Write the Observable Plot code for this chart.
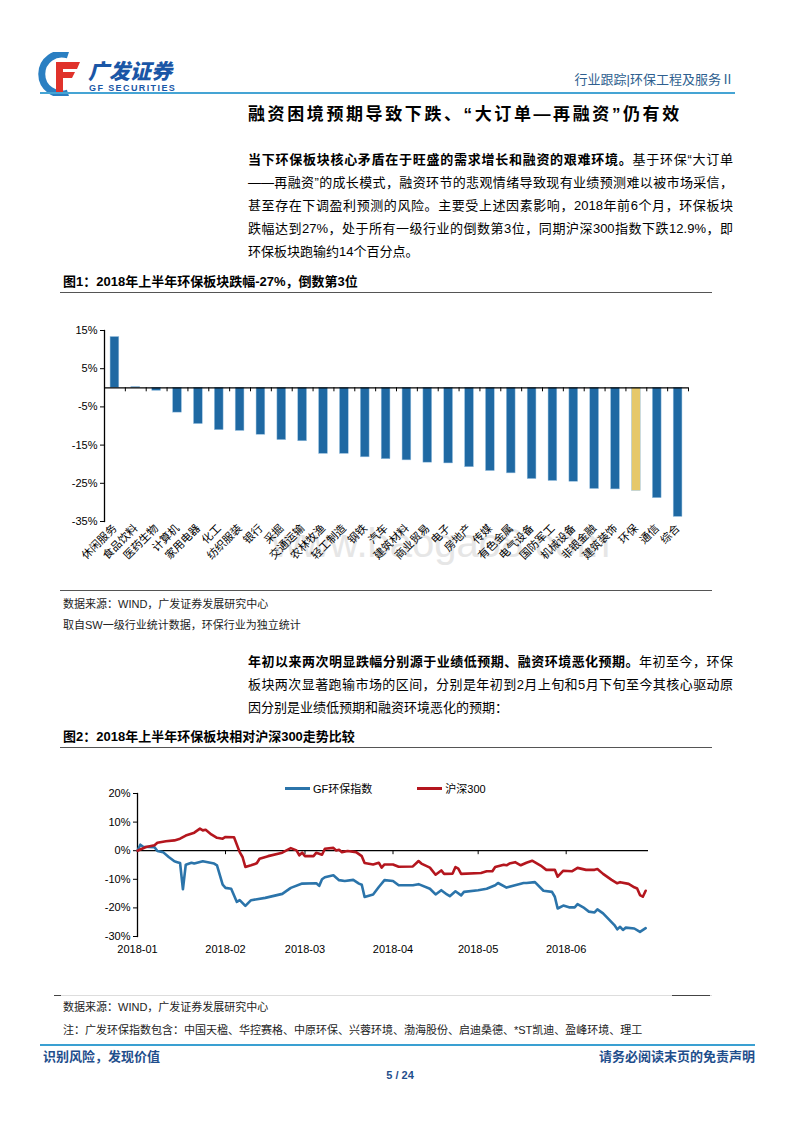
<!DOCTYPE html>
<html lang="zh-CN"><head><meta charset="utf-8">
<script src="https://cdn.jsdelivr.net/npm/d3@7"></script>
<script src="https://cdn.jsdelivr.net/npm/@observablehq/plot@0.6"></script>
<style>
body{margin:0;background:#fff;}
#page{position:relative;width:800px;height:1132px;overflow:hidden;font-family:"Liberation Sans","Noto Sans CJK SC",sans-serif;color:#000;}
.abs{position:absolute;white-space:nowrap;}
.ln{position:absolute;left:248px;width:485px;font-size:13px;line-height:16px;height:16px;white-space:nowrap;text-align:justify;text-align-last:justify;}
.ln.last{text-align-last:left;}
.figt{position:absolute;left:63px;font-size:13px;font-weight:700;line-height:16px;}
.rule{position:absolute;height:0;}
.src{position:absolute;left:63px;font-size:11px;line-height:14px;color:#222;}
.blue{color:#1f4e8c;}
</style></head>
<body><div id="page">
<!-- logo -->
<svg class="abs" style="left:38px;top:52px" width="50" height="44" viewBox="0 0 50 44">
  <path d="M30 3 A20 20 0 1 0 30 41" fill="none" stroke="#2a7fc2" stroke-width="7"/>
  <path d="M18 10 H42 L39 17 H25 V20 H37 L34 26 H25 V40 H18 Z" fill="#e0322b"/>
</svg>
<div class="abs" style="left:88px;top:59px;font-size:21px;font-weight:900;color:#1a56a6;font-style:italic;line-height:25px;">广发证券</div>
<div class="abs" style="left:89px;top:83px;font-size:9px;font-weight:700;color:#1a56a6;line-height:10px;letter-spacing:1.4px;">GF SECURITIES</div>
<div class="abs" style="right:66px;top:72px;font-size:13px;color:#2f5f8f;line-height:16px;">行业跟踪|环保工程及服务Ⅱ</div>
<div class="rule" style="left:40px;width:695px;top:92px;border-top:2px solid #45a4d4;"></div>

<div class="abs" style="left:248px;top:105px;font-size:17px;font-weight:700;line-height:20px;letter-spacing:2.6px;">融资困境预期导致下跌、“大订单—再融资”仍有效</div>

<div class="ln" style="top:152px;"><b>当下环保板块核心矛盾在于旺盛的需求增长和融资的艰难环境。</b>基于环保“大订单</div>
<div class="ln" style="top:175px;">——再融资”的成长模式，融资环节的悲观情绪导致现有业绩预测难以被市场采信，</div>
<div class="ln" style="top:198px;">甚至存在下调盈利预测的风险。主要受上述因素影响，2018年前6个月，环保板块</div>
<div class="ln" style="top:221px;">跌幅达到27%，处于所有一级行业的倒数第3位，同期沪深300指数下跌12.9%，即</div>
<div class="ln last" style="top:244px;">环保板块跑输约14个百分点。</div>

<div class="figt" style="top:274px;">图1：2018年上半年环保板块跌幅-27%，倒数第3位</div>
<div class="rule" style="left:60px;width:652px;top:292px;border-top:1.5px solid #555;"></div>

<div class="abs" style="left:272px;top:520px;font-size:40px;color:#e6e6e6;line-height:46px;">www.baogao8.com</div>
<div id="chart1" class="abs" style="left:40px;top:300px;"></div>

<div class="rule" style="left:60px;width:652px;top:590px;border-top:1px solid #555;"></div>
<div class="src" style="top:597px;">数据来源：WIND，广发证券发展研究中心</div>
<div class="src" style="top:618px;">取自SW一级行业统计数据，环保行业为独立统计</div>

<div class="ln" style="top:654px;"><b>年初以来两次明显跌幅分别源于业绩低预期、融资环境恶化预期。</b>年初至今，环保</div>
<div class="ln" style="top:677px;">板块两次显著跑输市场的区间，分别是年初到2月上旬和5月下旬至今其核心驱动原</div>
<div class="ln last" style="top:700px;">因分别是业绩低预期和融资环境恶化的预期：</div>

<div class="figt" style="top:729px;">图2：2018年上半年环保板块相对沪深300走势比较</div>
<div class="rule" style="left:60px;width:652px;top:747px;border-top:1.5px solid #555;"></div>

<div id="legend2" class="abs" style="left:285px;top:779px;font-size:11px;line-height:14px;"></div>
<div id="chart2" class="abs" style="left:40px;top:770px;"></div>

<div class="rule" style="left:55px;width:657px;top:995px;border-top:1px solid #ddd;"></div>
<div class="rule" style="left:672px;width:38px;top:995px;border-top:1px solid #444;"></div>
<div class="rule" style="left:54px;width:7px;top:995px;border-top:1px solid #444;"></div>
<div class="src" style="top:1000px;">数据来源：WIND，广发证券发展研究中心</div>
<div class="src" style="top:1023px;">注：广发环保指数包含：中国天楹、华控赛格、中原环保、兴蓉环境、渤海股份、启迪桑德、*ST凯迪、盈峰环境、理工</div>

<div class="rule" style="left:40px;width:715px;top:1044px;border-top:2px solid #3aa0d2;"></div>
<div class="abs blue" style="left:43px;top:1049px;font-size:13px;font-weight:700;line-height:16px;">识别风险，发现价值</div>
<div class="abs blue" style="right:45px;top:1049px;font-size:13px;font-weight:700;line-height:16px;">请务必阅读末页的免责声明</div>
<div class="abs blue" style="left:0;width:800px;text-align:center;top:1068px;font-size:11px;font-weight:700;line-height:14px;">5 / 24</div>
</div>
<script>
// ---------- Chart 1 data ----------
const industries = ["休闲服务","食品饮料","医药生物","计算机","家用电器","化工","纺织服装","银行","采掘","交通运输","农林牧渔","轻工制造","钢铁","汽车","建筑材料","商业贸易","电子","房地产","传媒","有色金属","电气设备","国防军工","机械设备","非银金融","建筑装饰","环保","通信","综合"];
const changes = [13.3, 0.2, -0.8, -6.5, -9.5, -11.1, -11.3, -12.3, -13.7, -14.0, -17.3, -17.3, -18.2, -18.7, -19.0, -19.6, -19.8, -20.8, -21.8, -22.4, -23.9, -24.4, -24.6, -26.5, -26.6, -27.0, -28.9, -33.8];
const highlight = "环保";
const yTicks1 = [15, 5, -5, -15, -25, -35];

// ---------- Chart 2 data (date, % change since 2018-01-01) ----------
const gfDates = ["2018-01-01","2018-01-02","2018-01-03","2018-01-07","2018-01-08","2018-01-10","2018-01-12","2018-01-14","2018-01-15","2018-01-16",
"2018-01-17","2018-01-18","2018-01-20","2018-01-21","2018-01-24","2018-01-28","2018-01-29","2018-01-31","2018-02-01","2018-02-03",
"2018-02-05","2018-02-06","2018-02-08","2018-02-10","2018-02-15","2018-02-21","2018-02-24","2018-02-28","2018-03-05","2018-03-06",
"2018-03-07","2018-03-08","2018-03-11","2018-03-13","2018-03-15","2018-03-18","2018-03-20","2018-03-21","2018-03-22","2018-03-25",
"2018-03-27","2018-03-29","2018-04-01","2018-04-03","2018-04-08","2018-04-10","2018-04-14","2018-04-16","2018-04-18","2018-04-20",
"2018-04-21","2018-04-23","2018-04-25","2018-04-26","2018-05-01","2018-05-04","2018-05-07","2018-05-08","2018-05-11","2018-05-14",
"2018-05-17","2018-05-18","2018-05-21","2018-05-24","2018-05-27","2018-05-28","2018-05-29","2018-05-31","2018-06-02","2018-06-04",
"2018-06-05","2018-06-07","2018-06-09","2018-06-11","2018-06-12","2018-06-14","2018-06-18","2018-06-19","2018-06-20","2018-06-21",
"2018-06-22","2018-06-25","2018-06-27","2018-06-29"];
const gfValues = [0,2.1,1.4,1.2,-0.1,-0.5,-2.2,-3.7,-4.0,-4.3,-13.5,-4.9,-4.2,-4.5,-3.7,-4.5,-5.1,-11.9,-13.0,-13.3,-17.9,-17.3,-19.3,-17.3,-16.5,-15.1,-13.0,-11.5,-11.4,-12.3,-10.0,-9.3,-8.6,-10.3,-10.6,-10.2,-11.5,-11.9,-16.2,-15.3,-12.7,-10.3,-10.6,-12.1,-12.1,-11.7,-13.3,-15.3,-13.8,-15.3,-15.9,-14.2,-15.6,-14.4,-13.8,-13.3,-12.1,-11.3,-12.9,-12.1,-11.3,-11.3,-11.0,-14.0,-14.4,-16.1,-20.2,-19.2,-19.8,-19.8,-18.7,-19.8,-21.3,-21.6,-20.5,-21.9,-26.0,-27.5,-26.6,-27.7,-26.9,-27.2,-28.4,-27.1];
const hsDates = ["2018-01-01","2018-01-04","2018-01-07","2018-01-08","2018-01-11","2018-01-14","2018-01-16","2018-01-18","2018-01-21","2018-01-23",
"2018-01-24","2018-01-25","2018-01-27","2018-01-29","2018-01-31","2018-02-01","2018-02-04","2018-02-06","2018-02-07","2018-02-08",
"2018-02-10","2018-02-12","2018-02-13","2018-02-16","2018-02-21","2018-02-24","2018-02-26","2018-02-27","2018-02-28","2018-03-01",
"2018-03-04","2018-03-05","2018-03-07","2018-03-08","2018-03-11","2018-03-12","2018-03-13","2018-03-14","2018-03-16","2018-03-19",
"2018-03-21","2018-03-22","2018-03-25","2018-03-27","2018-03-28","2018-03-29","2018-04-01","2018-04-03","2018-04-08","2018-04-10",
"2018-04-11","2018-04-14","2018-04-16","2018-04-18","2018-04-19","2018-04-22","2018-04-23","2018-04-24","2018-04-25","2018-05-02",
"2018-05-04","2018-05-06","2018-05-07","2018-05-10","2018-05-11","2018-05-12","2018-05-14","2018-05-16","2018-05-18","2018-05-20",
"2018-05-23","2018-05-25","2018-05-28","2018-05-29","2018-05-31","2018-06-03","2018-06-05","2018-06-08","2018-06-11","2018-06-12",
"2018-06-14","2018-06-17","2018-06-19","2018-06-20","2018-06-23","2018-06-25","2018-06-26","2018-06-27","2018-06-28","2018-06-29"];
const hsValues = [0,1.3,1.9,2.8,3.3,3.6,4.2,5.3,6.3,7.7,7.1,7.3,5.7,4.5,4.2,4.8,4.7,-0.5,-2.2,-5.7,-5.1,-4.4,-2.8,-1.9,-0.7,0.9,0.1,-1.6,-0.7,-1.9,-1.9,-0.7,-1.4,0.7,1.0,0.1,0.3,-0.5,-0.1,-0.5,-1.9,-4.3,-4.8,-4.2,-5.9,-4.8,-4.8,-5.6,-5.5,-3.6,-4.5,-5.9,-8.4,-6.9,-8.1,-8.0,-5.7,-6.3,-8.1,-7.8,-7.2,-7.2,-5.7,-4.9,-5.1,-4.5,-4.0,-5.1,-4.2,-3.5,-5.2,-6.7,-6.7,-9.1,-7.0,-7.2,-6.0,-6.7,-6.7,-6.4,-8.1,-10.2,-11.4,-11.0,-11.6,-12.8,-13.2,-15.5,-16.1,-14.0];
const seriesNames = ["GF环保指数", "沪深300"];
const xTickDates = ["2018-01-01","2018-02-01","2018-03-01","2018-04-01","2018-05-01","2018-06-01"];
const xDomain = ["2018-01-01","2018-06-30"];
const yTicks2 = [20, 10, 0, -10, -20, -30];

// ---------- Chart 1 ----------
const W1 = 700, H1 = 290, ml1 = 64, mr1 = 52, mt1 = 30, mb1 = 69;
const bw = (W1 - ml1 - mr1) / industries.length;
const bars = industries.map((name, i) => ({name, value: changes[i], kind: name === highlight ? "hl" : "base"}));
const chart1 = Plot.plot({
  width: W1, height: H1, marginLeft: ml1, marginRight: mr1, marginTop: mt1, marginBottom: mb1,
  style: {fontFamily: "Liberation Sans, Arial, sans-serif", fontSize: "11px", color: "#000", background: "transparent", overflow: "visible"},
  x: {type: "band", domain: industries, paddingInner: 0.58, paddingOuter: 0.29, round: false},
  y: {domain: [-35, 15]},
  color: {domain: ["base", "hl"], range: ["#1f69a3", "#e6c86a"]},
  marks: [
    Plot.barY(bars, {x: "name", y: "value", fill: "kind", stroke: "#9cc3e2", strokeWidth: 0.5}),
    Plot.ruleY([0], {stroke: "#000", strokeWidth: 1.3}),
    Plot.ruleX(industries, {x: d => d, dx: -bw / 2, y1: 0, y2: 0, insetBottom: -4, stroke: "#000"}),
    Plot.ruleX([industries[industries.length - 1]], {x: d => d, dx: bw / 2, y1: 0, y2: 0, insetBottom: -4, stroke: "#000"}),
    Plot.frame({anchor: "left", stroke: "#000", strokeWidth: 1.3}),
    Plot.axisY({ticks: yTicks1, tickFormat: d => d + "%", tickSize: 4, tickPadding: 3, label: null}),
    Plot.axisX({tickSize: 0, tickRotate: -45, tickPadding: 5, label: null, fontFamily: "Noto Sans CJK SC", fontSize: 11})
  ]
});
document.getElementById("chart1").appendChild(chart1);

// ---------- Chart 2 ----------
const parse = d3.utcParse("%Y-%m-%d");
const lineData = [
  ...gfDates.map((d, i) => ({date: parse(d), value: gfValues[i], series: seriesNames[0]})),
  ...hsDates.map((d, i) => ({date: parse(d), value: hsValues[i], series: seriesNames[1]}))
];
const tickDates = xTickDates.map(parse);
const colors2 = ["#2b74aa", "#b4161e"];
const W2 = 700, H2 = 200, ml2 = 97, mr2 = 92, mt2 = 23, mb2 = 34;
const chart2 = Plot.plot({
  width: W2, height: H2, marginLeft: ml2, marginRight: mr2, marginTop: mt2, marginBottom: mb2,
  style: {fontFamily: "Liberation Sans, Arial, sans-serif", fontSize: "11px", color: "#000", background: "transparent", overflow: "visible"},
  x: {type: "utc", domain: xDomain.map(parse)},
  y: {domain: [-30, 20]},
  color: {domain: seriesNames, range: colors2},
  marks: [
    Plot.ruleY([0], {stroke: "#000", strokeWidth: 1.3}),
    Plot.ruleX(tickDates, {x: d => d, y1: 0, y2: 0, insetBottom: -4, stroke: "#000"}),
    Plot.frame({anchor: "left", stroke: "#000", strokeWidth: 1.3}),
    Plot.axisY({ticks: yTicks2, tickFormat: d => d + "%", tickSize: 4, tickPadding: 3, label: null}),
    Plot.axisX({ticks: tickDates, tickFormat: d3.utcFormat("%Y-%m"), tickSize: 0, tickPadding: 9, label: null}),
    Plot.line(lineData, {x: "date", y: "value", z: "series", stroke: "series", strokeWidth: 2.6, strokeLinejoin: "round"})
  ]
});
document.getElementById("chart2").appendChild(chart2);

// legend
const leg = document.getElementById("legend2");
leg.innerHTML = seriesNames.map((n, i) =>
  `<span style="display:inline-flex;align-items:center;margin-right:${i === 0 ? 45 : 0}px;">` +
  `<span style="display:inline-block;width:25px;height:3px;background:${colors2[i]};margin-right:3px;"></span>${n}</span>`
).join("");
</script>
</body></html>
